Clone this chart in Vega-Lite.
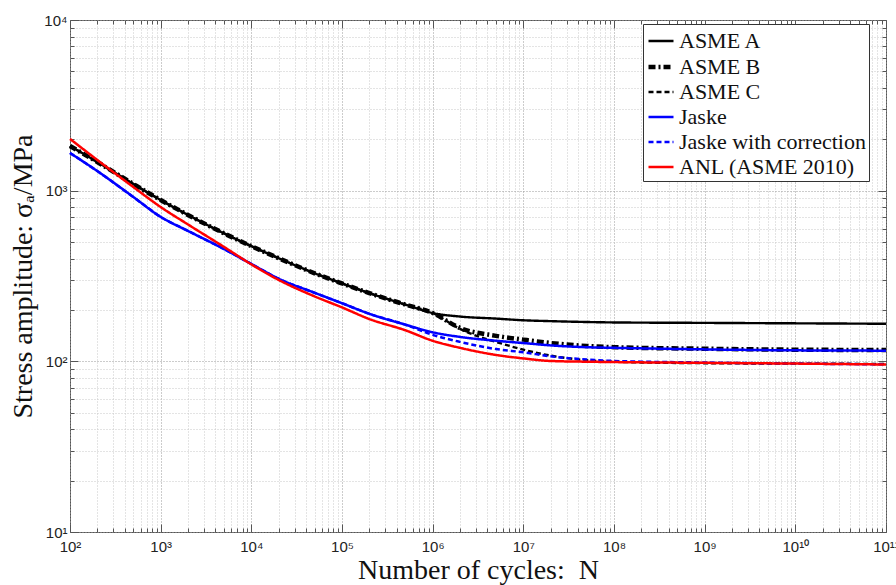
{
  "$schema": "https://vega.github.io/schema/vega-lite/v6.json",
  "width": 816,
  "height": 512,
  "autosize": {"type": "none"},
  "padding": {"left": 70, "top": 20, "right": 10, "bottom": 53},
  "background": "white",
  "config": {
    "view": {"stroke": "#555", "strokeWidth": 1},
    "axis": {
      "labelFont": "Liberation Sans",
      "labelFontSize": 15,
      "labelColor": "#222",
      "titleFont": "Liberation Serif",
      "titleFontSize": 28,
      "titleFontWeight": "normal",
      "titleColor": "#111",
      "tickColor": "#555",
      "domain": false,
      "labelOverlap": false,
      "labelFlush": false,
      "labelBound": false
    }
  },
  "data": {
    "values": [
      {"curve": "ASME A", "N": 100, "S": 1828}, {"curve": "ASME A", "N": 200, "S": 1472}, {"curve": "ASME A", "N": 500, "S": 1094}, {"curve": "ASME A", "N": 1000, "S": 881}, {"curve": "ASME A", "N": 2000, "S": 721}, {"curve": "ASME A", "N": 5000, "S": 562}, {"curve": "ASME A", "N": 1e4, "S": 473}, {"curve": "ASME A", "N": 2e4, "S": 402}, {"curve": "ASME A", "N": 5e4, "S": 328}, {"curve": "ASME A", "N": 1e5, "S": 286}, {"curve": "ASME A", "N": 2e5, "S": 251}, {"curve": "ASME A", "N": 5e5, "S": 215}, {"curve": "ASME A", "N": 1e6, "S": 192},
      {"curve": "ASME A", "N": 2e6, "S": 183}, {"curve": "ASME A", "N": 5e6, "S": 178}, {"curve": "ASME A", "N": 1e7, "S": 174}, {"curve": "ASME A", "N": 2e7, "S": 172}, {"curve": "ASME A", "N": 5e7, "S": 170}, {"curve": "ASME A", "N": 1e8, "S": 169}, {"curve": "ASME A", "N": 1e9, "S": 168}, {"curve": "ASME A", "N": 1e10, "S": 167}, {"curve": "ASME A", "N": 1e11, "S": 166},

      {"curve": "ASME B", "N": 100, "S": 1828}, {"curve": "ASME B", "N": 200, "S": 1472}, {"curve": "ASME B", "N": 500, "S": 1094}, {"curve": "ASME B", "N": 1000, "S": 881}, {"curve": "ASME B", "N": 2000, "S": 721}, {"curve": "ASME B", "N": 5000, "S": 562}, {"curve": "ASME B", "N": 1e4, "S": 473}, {"curve": "ASME B", "N": 2e4, "S": 402}, {"curve": "ASME B", "N": 5e4, "S": 328}, {"curve": "ASME B", "N": 1e5, "S": 286}, {"curve": "ASME B", "N": 2e5, "S": 251}, {"curve": "ASME B", "N": 5e5, "S": 215}, {"curve": "ASME B", "N": 1e6, "S": 192},
      {"curve": "ASME B", "N": 2e6, "S": 157}, {"curve": "ASME B", "N": 5e6, "S": 141}, {"curve": "ASME B", "N": 1e7, "S": 134}, {"curve": "ASME B", "N": 2e7, "S": 128}, {"curve": "ASME B", "N": 5e7, "S": 123}, {"curve": "ASME B", "N": 1e8, "S": 121}, {"curve": "ASME B", "N": 1e9, "S": 118.5}, {"curve": "ASME B", "N": 1e10, "S": 117}, {"curve": "ASME B", "N": 1e11, "S": 116.5},

      {"curve": "ASME C", "N": 100, "S": 1828}, {"curve": "ASME C", "N": 200, "S": 1472}, {"curve": "ASME C", "N": 500, "S": 1094}, {"curve": "ASME C", "N": 1000, "S": 881}, {"curve": "ASME C", "N": 2000, "S": 721}, {"curve": "ASME C", "N": 5000, "S": 562}, {"curve": "ASME C", "N": 1e4, "S": 473}, {"curve": "ASME C", "N": 2e4, "S": 402}, {"curve": "ASME C", "N": 5e4, "S": 328}, {"curve": "ASME C", "N": 1e5, "S": 286}, {"curve": "ASME C", "N": 2e5, "S": 251}, {"curve": "ASME C", "N": 5e5, "S": 215}, {"curve": "ASME C", "N": 1e6, "S": 192},
      {"curve": "ASME C", "N": 2e6, "S": 155}, {"curve": "ASME C", "N": 3.3e6, "S": 139}, {"curve": "ASME C", "N": 5e6, "S": 130}, {"curve": "ASME C", "N": 1e7, "S": 117}, {"curve": "ASME C", "N": 2e7, "S": 108}, {"curve": "ASME C", "N": 5e7, "S": 101.5}, {"curve": "ASME C", "N": 1e8, "S": 99.5}, {"curve": "ASME C", "N": 1e9, "S": 97.5}, {"curve": "ASME C", "N": 1e10, "S": 97}, {"curve": "ASME C", "N": 1e11, "S": 96.5},

      {"curve": "Jaske", "N": 100, "S": 1663}, {"curve": "Jaske", "N": 200, "S": 1303}, {"curve": "Jaske", "N": 500, "S": 918}, {"curve": "Jaske", "N": 1000, "S": 702}, {"curve": "Jaske", "N": 2000, "S": 581}, {"curve": "Jaske", "N": 5000, "S": 455}, {"curve": "Jaske", "N": 1e4, "S": 372}, {"curve": "Jaske", "N": 2e4, "S": 305}, {"curve": "Jaske", "N": 5e4, "S": 252}, {"curve": "Jaske", "N": 1e5, "S": 219}, {"curve": "Jaske", "N": 2e5, "S": 190}, {"curve": "Jaske", "N": 5e5, "S": 164}, {"curve": "Jaske", "N": 1e6, "S": 148}, {"curve": "Jaske", "N": 2e6, "S": 139}, {"curve": "Jaske", "N": 5e6, "S": 132}, {"curve": "Jaske", "N": 1e7, "S": 128}, {"curve": "Jaske", "N": 2e7, "S": 124}, {"curve": "Jaske", "N": 5e7, "S": 121}, {"curve": "Jaske", "N": 1e8, "S": 120}, {"curve": "Jaske", "N": 1e9, "S": 117.5}, {"curve": "Jaske", "N": 1e10, "S": 116}, {"curve": "Jaske", "N": 1e11, "S": 115.5},

      {"curve": "Jaske with correction", "N": 100, "S": 1663}, {"curve": "Jaske with correction", "N": 200, "S": 1303}, {"curve": "Jaske with correction", "N": 500, "S": 918}, {"curve": "Jaske with correction", "N": 1000, "S": 702}, {"curve": "Jaske with correction", "N": 2000, "S": 581}, {"curve": "Jaske with correction", "N": 5000, "S": 455}, {"curve": "Jaske with correction", "N": 1e4, "S": 372}, {"curve": "Jaske with correction", "N": 2e4, "S": 305}, {"curve": "Jaske with correction", "N": 5e4, "S": 252}, {"curve": "Jaske with correction", "N": 1e5, "S": 219}, {"curve": "Jaske with correction", "N": 2e5, "S": 190}, {"curve": "Jaske with correction", "N": 5e5, "S": 164}, {"curve": "Jaske with correction", "N": 1e6, "S": 143}, {"curve": "Jaske with correction", "N": 2e6, "S": 130}, {"curve": "Jaske with correction", "N": 5e6, "S": 118}, {"curve": "Jaske with correction", "N": 1e7, "S": 113}, {"curve": "Jaske with correction", "N": 2e7, "S": 107}, {"curve": "Jaske with correction", "N": 5e7, "S": 102.5}, {"curve": "Jaske with correction", "N": 1e8, "S": 100.5}, {"curve": "Jaske with correction", "N": 1e9, "S": 98.4}, {"curve": "Jaske with correction", "N": 1e10, "S": 97}, {"curve": "Jaske with correction", "N": 1e11, "S": 96},

      {"curve": "ANL (ASME 2010)", "N": 100, "S": 2010}, {"curve": "ANL (ASME 2010)", "N": 200, "S": 1513}, {"curve": "ANL (ASME 2010)", "N": 500, "S": 1050}, {"curve": "ANL (ASME 2010)", "N": 1000, "S": 802}, {"curve": "ANL (ASME 2010)", "N": 2000, "S": 634}, {"curve": "ANL (ASME 2010)", "N": 5000, "S": 468}, {"curve": "ANL (ASME 2010)", "N": 1e4, "S": 370}, {"curve": "ANL (ASME 2010)", "N": 2e4, "S": 300}, {"curve": "ANL (ASME 2010)", "N": 5e4, "S": 240}, {"curve": "ANL (ASME 2010)", "N": 1e5, "S": 207}, {"curve": "ANL (ASME 2010)", "N": 2e5, "S": 177}, {"curve": "ANL (ASME 2010)", "N": 5e5, "S": 152}, {"curve": "ANL (ASME 2010)", "N": 1e6, "S": 132}, {"curve": "ANL (ASME 2010)", "N": 2e6, "S": 120}, {"curve": "ANL (ASME 2010)", "N": 5e6, "S": 109}, {"curve": "ANL (ASME 2010)", "N": 1e7, "S": 104}, {"curve": "ANL (ASME 2010)", "N": 2e7, "S": 100.5}, {"curve": "ANL (ASME 2010)", "N": 5e7, "S": 99.5}, {"curve": "ANL (ASME 2010)", "N": 1e8, "S": 99}, {"curve": "ANL (ASME 2010)", "N": 1e9, "S": 98}, {"curve": "ANL (ASME 2010)", "N": 1e10, "S": 97}, {"curve": "ANL (ASME 2010)", "N": 1e11, "S": 95.8}
    ]
  },
  "layer": [
    {
      "mark": {"type": "line", "interpolate": "monotone"},
      "encoding": {
        "x": {
          "field": "N", "type": "quantitative",
          "scale": {"type": "log", "domain": [100, 1e11], "nice": false},
          "axis": {
            "orient": "bottom",
            "title": "Number of cycles:\u00a0\u00a0N",
            "titlePadding": -2,
            "values": [100,200,300,400,500,600,700,800,900,1000,2000,3000,4000,5000,6000,7000,8000,9000,1e4,2e4,3e4,4e4,5e4,6e4,7e4,8e4,9e4,1e5,2e5,3e5,4e5,5e5,6e5,7e5,8e5,9e5,1e6,2e6,3e6,4e6,5e6,6e6,7e6,8e6,9e6,1e7,2e7,3e7,4e7,5e7,6e7,7e7,8e7,9e7,1e8,2e8,3e8,4e8,5e8,6e8,7e8,8e8,9e8,1e9,2e9,3e9,4e9,5e9,6e9,7e9,8e9,9e9,1e10,2e10,3e10,4e10,5e10,6e10,7e10,8e10,9e10,1e11],
            "labelExpr": "abs(log(datum.value)/LN10 - round(log(datum.value)/LN10)) < 0.001 ? '10' + ['⁰','¹','²','³','⁴','⁵','⁶','⁷','⁸','⁹','¹⁰','¹¹'][round(log(datum.value)/LN10)] : ''",
            "labelPadding": 15,
            "tickSize": {"condition": {"test": "abs(log(datum.value)/LN10 - round(log(datum.value)/LN10)) < 0.001", "value": -8}, "value": -4},
            "grid": true,
            "gridDash": [1, 2],
            "gridColor": {"condition": {"test": "abs(log(datum.value)/LN10 - round(log(datum.value)/LN10)) < 0.001", "value": "#999"}, "value": "#c8c8c8"}
          }
        },
        "y": {
          "field": "S", "type": "quantitative",
          "scale": {"type": "log", "domain": [10, 10000], "nice": false},
          "axis": {
            "orient": "left",
            "title": "Stress amplitude: σₐ/MPa",
            "titlePadding": 6,
            "values": [10,20,30,40,50,60,70,80,90,100,200,300,400,500,600,700,800,900,1000,2000,3000,4000,5000,6000,7000,8000,9000,10000],
            "labelExpr": "abs(log(datum.value)/LN10 - round(log(datum.value)/LN10)) < 0.001 ? '10' + ['⁰','¹','²','³','⁴','⁵','⁶','⁷','⁸','⁹','¹⁰','¹¹'][round(log(datum.value)/LN10)] : ''",
            "labelPadding": 11,
            "tickSize": {"condition": {"test": "abs(log(datum.value)/LN10 - round(log(datum.value)/LN10)) < 0.001", "value": -8}, "value": -4},
            "grid": true,
            "gridDash": [1, 2],
            "gridColor": {"condition": {"test": "abs(log(datum.value)/LN10 - round(log(datum.value)/LN10)) < 0.001", "value": "#999"}, "value": "#c8c8c8"}
          }
        },
        "color": {
          "field": "curve", "type": "nominal",
          "scale": {"domain": ["ASME A", "ASME B", "ASME C", "Jaske", "Jaske with correction", "ANL (ASME 2010)"], "range": ["#000000", "#000000", "#000000", "#0000ff", "#0000ff", "#ff0000"]},
          "legend": {
            "title": null,
            "orient": "none",
            "legendX": 573,
            "legendY": 4,
            "fillColor": "white",
            "strokeColor": "#333",
            "padding": 3,
            "symbolType": "stroke",
            "symbolSize": 625,
            "labelFont": "Liberation Serif",
            "labelFontSize": 22,
            "labelColor": "#111",
            "rowPadding": 0,
            "labelOffset": 3,
            "labelLimit": 400
          }
        },
        "strokeDash": {
          "field": "curve", "type": "nominal",
          "scale": {"domain": ["ASME A", "ASME B", "ASME C", "Jaske", "Jaske with correction", "ANL (ASME 2010)"], "range": [[1, 0], [7, 3, 2, 3], [5, 3], [1, 0], [5, 3], [1, 0]]},
          "legend": {"title": null}
        },
        "strokeWidth": {
          "field": "curve", "type": "nominal",
          "scale": {"type": "ordinal", "domain": ["ASME A", "ASME B", "ASME C", "Jaske", "Jaske with correction", "ANL (ASME 2010)"], "range": [2.4, 4.5, 2.4, 2.5, 2.5, 2.5]},
          "legend": {"title": null}
        }
      }
    },
    {
      "mark": {"type": "line", "opacity": 0},
      "encoding": {
        "x": {
          "field": "N", "type": "quantitative",
          "scale": {"type": "log", "domain": [100, 1e11], "nice": false},
          "axis": {
            "orient": "top",
            "title": null,
            "labels": false,
            "grid": false,
            "values": [100,200,300,400,500,600,700,800,900,1000,2000,3000,4000,5000,6000,7000,8000,9000,1e4,2e4,3e4,4e4,5e4,6e4,7e4,8e4,9e4,1e5,2e5,3e5,4e5,5e5,6e5,7e5,8e5,9e5,1e6,2e6,3e6,4e6,5e6,6e6,7e6,8e6,9e6,1e7,2e7,3e7,4e7,5e7,6e7,7e7,8e7,9e7,1e8,2e8,3e8,4e8,5e8,6e8,7e8,8e8,9e8,1e9,2e9,3e9,4e9,5e9,6e9,7e9,8e9,9e9,1e10,2e10,3e10,4e10,5e10,6e10,7e10,8e10,9e10,1e11],
            "tickSize": {"condition": {"test": "abs(log(datum.value)/LN10 - round(log(datum.value)/LN10)) < 0.001", "value": -8}, "value": -4}
          }
        },
        "y": {
          "field": "S", "type": "quantitative",
          "scale": {"type": "log", "domain": [10, 10000], "nice": false},
          "axis": {
            "orient": "right",
            "title": null,
            "labels": false,
            "grid": false,
            "values": [10,20,30,40,50,60,70,80,90,100,200,300,400,500,600,700,800,900,1000,2000,3000,4000,5000,6000,7000,8000,9000,10000],
            "tickSize": {"condition": {"test": "abs(log(datum.value)/LN10 - round(log(datum.value)/LN10)) < 0.001", "value": -8}, "value": -4}
          }
        },
        "detail": {"field": "curve", "type": "nominal"}
      }
    }
  ],
  "resolve": {"axis": {"x": "independent", "y": "independent"}}
}
